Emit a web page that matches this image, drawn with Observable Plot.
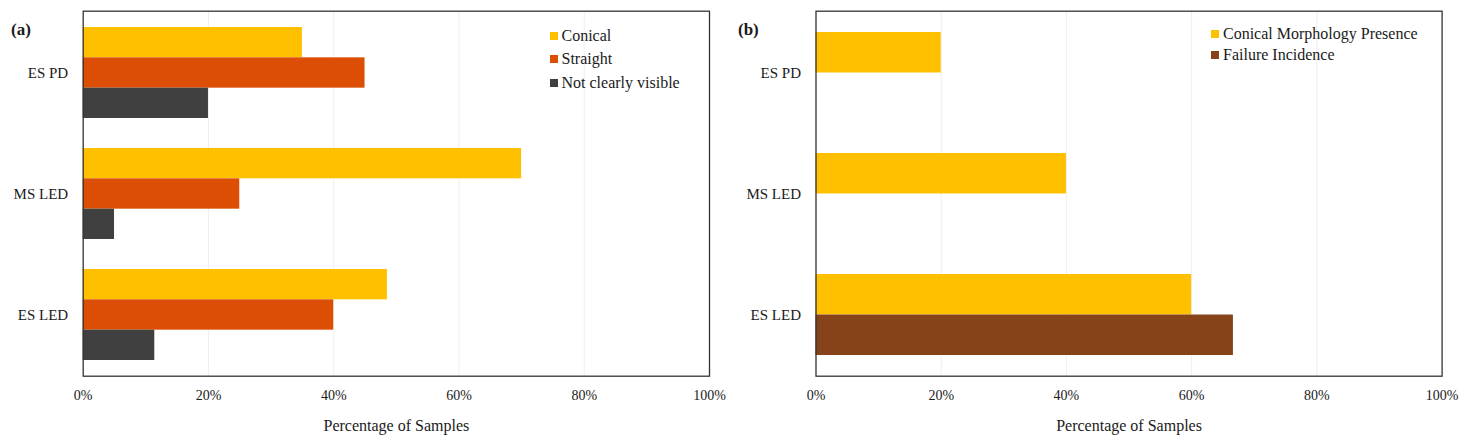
<!DOCTYPE html>
<html>
<head>
<meta charset="utf-8">
<script src="https://cdn.jsdelivr.net/npm/d3@7"></script>
<script src="https://cdn.jsdelivr.net/npm/@observablehq/plot@0.6"></script>
<style>
  html, body { margin: 0; padding: 0; background: #fff; }
  #wrap { position: relative; width: 1467px; height: 445px; display: flex; font-family: "Liberation Serif", "DejaVu Serif", serif; color: #1a1a1a; }
  .panel-label { position: absolute; font-weight: bold; font-size: 17px; line-height: 1; }
  .legend { position: absolute; font-size: 16px; line-height: 1; }
  .legend .row { position: absolute; white-space: nowrap; display: flex; align-items: center; }
  .legend .sw { width: 8px; height: 8px; margin-right: 4px; display: inline-block; }
</style>
</head>
<body>
<div id="wrap"></div>
<script>
// ---- Data ----
const categories = ["ES PD", "MS LED", "ES LED"];

const seriesA = ["Conical", "Straight", "Not clearly visible"];
const conicalA = [35, 70, 48.57];
const straightA = [45, 25, 40];
const notVisibleA = [20, 5, 11.43];
const colorsA = ["#FFC000", "#DC4E04", "#404040"];

const seriesB = ["Conical Morphology Presence", "Failure Incidence"];
const conicalB = [20, 40, 60];
const failureB = [0, 0, 66.67];
const colorsB = ["#FFC000", "#864219"];

const xTicks = [0, 20, 40, 60, 80, 100];
const gridTicks = [20, 40, 60, 80];
const xLabel = "Percentage of Samples";

// ---- Build ----
const wrap = document.getElementById("wrap");
const H = 445, mTop = 10.7, mBottom = 69.3;

function panel({width, marginLeft, marginRight, series, values, colors, paddingInner}) {
  const innerH = H - mTop - mBottom;
  const n = categories.length;
  const step = innerH / n;
  const bw = step * (1 - paddingInner);
  const sub = bw / series.length;
  const marks = [
    Plot.gridX(gridTicks, {stroke: "#efefef", strokeOpacity: 1, strokeWidth: 1})
  ];
  series.forEach((s, i) => {
    const rows = categories.map((c, j) => ({category: c, series: s, value: values[i][j]}));
    marks.push(Plot.barX(rows, {
      x: "value", y: "category", fill: "series",
      insetTop: sub * i, insetBottom: sub * (series.length - 1 - i)
    }));
  });
  marks.push(Plot.frame({stroke: "#333", strokeWidth: 1.3}));
  marks.push(Plot.axisX(xTicks, {tickSize: 0, tickPadding: 14, tickFormat: d => d + "%", fontSize: 14,
    label: xLabel, labelAnchor: "center", labelOffset: 55, labelArrow: "none"}));
  marks.push(Plot.axisY({tickSize: 0, tickPadding: 15, fontSize: 15, label: null}));
  const svg = Plot.plot({
    width, height: H,
    marginLeft, marginRight, marginTop: mTop, marginBottom: mBottom,
    x: {domain: [0, 100]},
    y: {domain: categories, paddingInner, paddingOuter: paddingInner / 2},
    color: {domain: series, range: colors},
    style: {fontFamily: '"Liberation Serif", "DejaVu Serif", serif', fontSize: "14px", color: "#1a1a1a", background: "#fff", overflow: "visible"},
    marks
  });
  return svg;
}

const svgA = panel({width: 733, marginLeft: 82.7, marginRight: 24, series: seriesA,
  values: [conicalA, straightA, notVisibleA], colors: colorsA, paddingInner: 0.252});
const svgB = panel({width: 734, marginLeft: 82.5, marginRight: 25.4, series: seriesB,
  values: [conicalB, failureB], colors: colorsB, paddingInner: 0.334});
wrap.appendChild(svgA);
wrap.appendChild(svgB);

// axis label font size
for (const s of [svgA, svgB]) {
  s.querySelectorAll("[aria-label='x-axis label']").forEach(g => {
    g.setAttribute("font-size", 16);
    g.querySelectorAll("text").forEach(t => t.setAttribute("font-size", 16));
  });
}

// panel labels
function addLabel(text, x, y) {
  const d = document.createElement("div");
  d.className = "panel-label";
  d.textContent = text;
  d.style.left = x + "px"; d.style.top = y + "px";
  wrap.appendChild(d);
}
addLabel("(a)", 11, 21);
addLabel("(b)", 738, 21);

// legends
function addLegend(series, colors, x, y0, gap) {
  const lg = document.createElement("div");
  lg.className = "legend";
  lg.style.left = x + "px"; lg.style.top = "0px";
  series.forEach((s, i) => {
    const r = document.createElement("div");
    r.className = "row";
    r.style.top = (y0 + gap * i - 8) + "px";
    r.style.height = "16px";
    const sw = document.createElement("span");
    sw.className = "sw"; sw.style.background = colors[i];
    const t = document.createElement("span");
    t.textContent = s;
    r.appendChild(sw); r.appendChild(t);
    lg.appendChild(r);
  });
  wrap.appendChild(lg);
}
addLegend(seriesA, colorsA, 549.5, 35.5, 23.6);
addLegend(seriesB, colorsB, 1211, 34.3, 20.8);
</script>
</body>
</html>
